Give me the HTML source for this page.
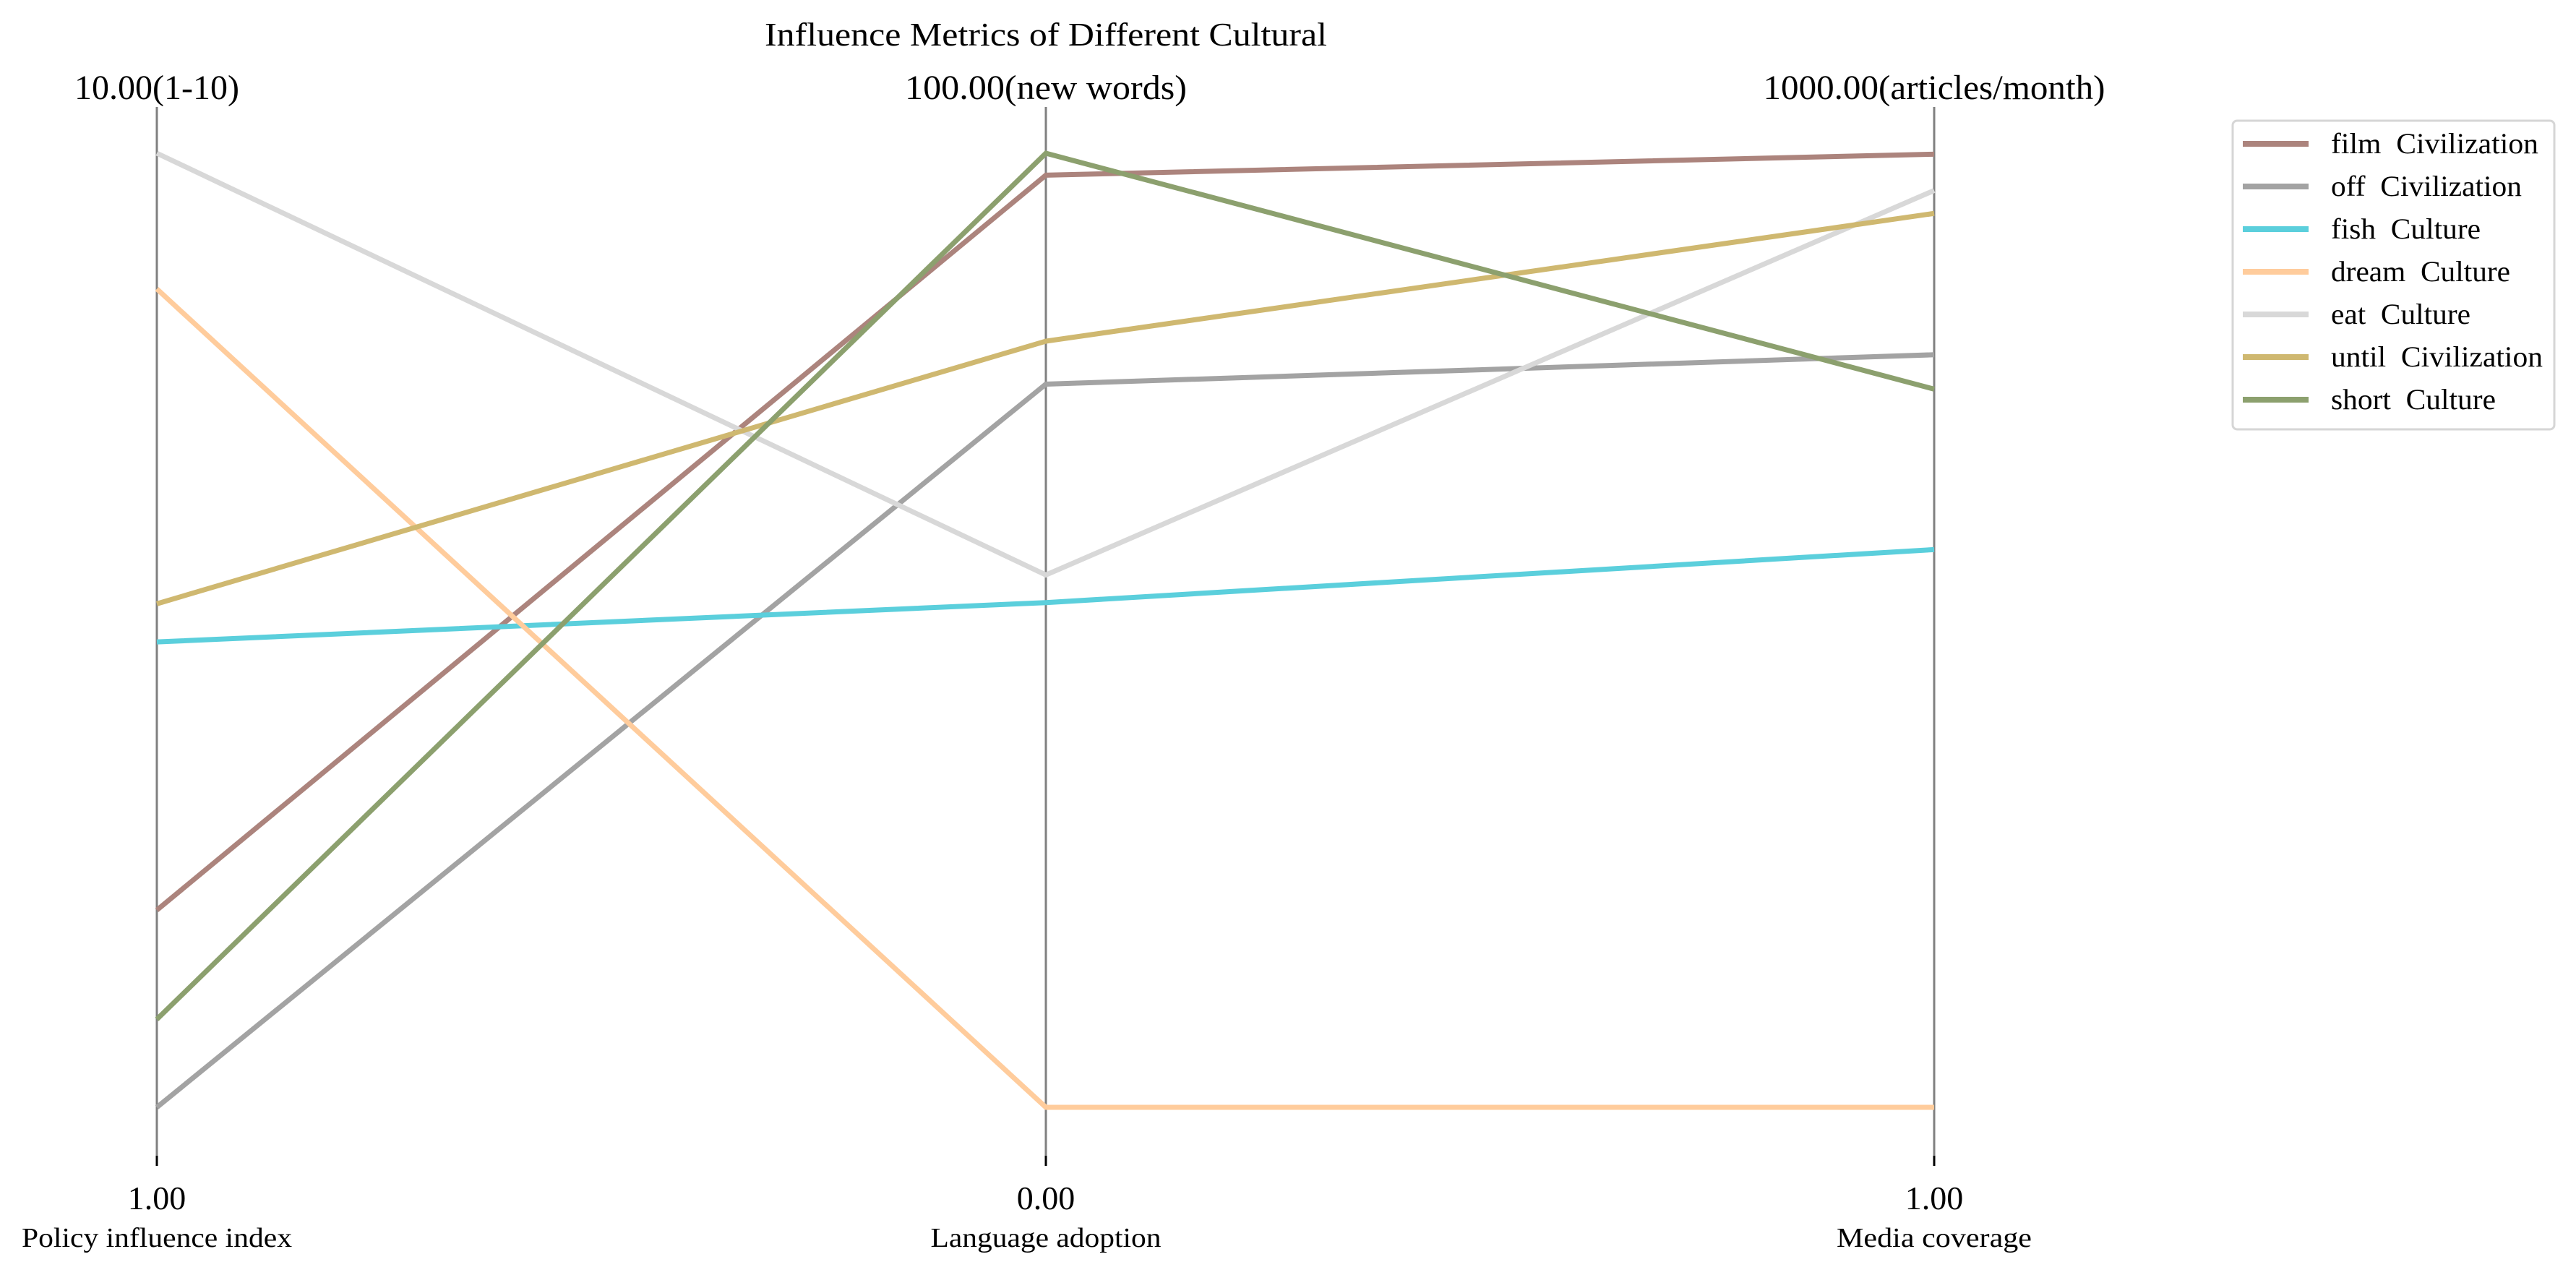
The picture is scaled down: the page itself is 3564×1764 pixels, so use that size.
<!DOCTYPE html>
<html><head><meta charset="utf-8"><style>
html,body{margin:0;padding:0;background:#fff;}
svg{display:block;font-family:"Liberation Serif",serif;}
</style></head><body>
<svg id="chart" width="3564" height="1764" viewBox="0 0 3564 1764" xmlns="http://www.w3.org/2000/svg">
<text x="1447" y="63" text-anchor="middle" font-size="46" textLength="778" lengthAdjust="spacingAndGlyphs">Influence Metrics of Different Cultural</text>
<g id="axes"></g>
<g id="lines"></g>
<g id="legend">
<rect x="3089" y="167" width="445" height="427" rx="6" fill="#fff" stroke="#d6d6d6" stroke-width="3"/>
</g>
</svg>
<script>
const axisNames = ["Policy influence index","Language adoption","Media coverage"];
const axisMin = [1, 0, 1];
const axisMax = [10, 100, 1000];
const axisMinLabels = ["1.00","0.00","1.00"];
const axisMaxLabels = ["10.00(1-10)","100.00(new words)","1000.00(articles/month)"];
const seriesNames = ["film  Civilization","off  Civilization","fish  Culture","dream  Culture","eat  Culture","until  Civilization","short  Culture"];
const filmValues = [2.86, 97.7, 999];
const offValues = [1, 75.8, 789];
const fishValues = [5.39, 52.9, 585];
const dreamValues = [8.72, 0, 1];
const eatValues = [10, 55.8, 961];
const untilValues = [5.75, 80.3, 937];
const shortValues = [1.83, 100, 753];
const seriesValues = [filmValues, offValues, fishValues, dreamValues, eatValues, untilValues, shortValues];
const seriesColors = ["#ac847d","#a3a3a3","#5bcfdc","#ffcc9c","#d8d8d8","#cfb870","#8ca06e"];

const NS = "http://www.w3.org/2000/svg";
const axisX = [217, 1447, 2676];
const yTop = 212, yBot = 1532;
function xPos(i){ return axisX[i]; }
function yPos(i, v){ return yBot - (v - axisMin[i])/(axisMax[i]-axisMin[i])*(yBot-yTop); }
function mk(tag, attrs, parent){ const e=document.createElementNS(NS,tag); for(const k in attrs) e.setAttribute(k,attrs[k]); parent.appendChild(e); return e; }

const axesG = document.getElementById('axes');
const topW = [228, 390, 473];
const nameW = [374, 319, 270];
axisNames.forEach((n,i)=>{
  const l = mk('line',{x1:xPos(i),x2:xPos(i),y1:148,y2:1599,stroke:'#808080','stroke-width':3},axesG);
  
  
  const t = mk('line',{x1:xPos(i),x2:xPos(i),y1:1599,y2:1613,stroke:'#000','stroke-width':3},axesG);
  
  
  const tt = mk('text',{x:xPos(i),y:137,'text-anchor':'middle','font-size':48,textLength:topW[i],lengthAdjust:'spacingAndGlyphs'},axesG);
  tt.textContent = axisMaxLabels[i];
  
  
  const bt = mk('text',{x:xPos(i),y:1673,'text-anchor':'middle','font-size':46},axesG);
  bt.textContent = axisMinLabels[i];
  
  
  const nt = mk('text',{x:xPos(i),y:1725,'text-anchor':'middle','font-size':38,textLength:nameW[i],lengthAdjust:'spacingAndGlyphs'},axesG);
  nt.textContent = n;
  
  
});

const linesG = document.getElementById('lines');
seriesValues.forEach((vals,s)=>{
  const pts = vals.map((v,i)=>xPos(i)+','+yPos(i,v)).join(' ');
  const p = mk('polyline',{points:pts,fill:'none',stroke:seriesColors[s],'stroke-width':7,'stroke-linejoin':'miter'},linesG);
  
  
});

const legG = document.getElementById('legend');
const legW = [287, 264, 207, 248, 193, 293, 228];
seriesNames.forEach((n,s)=>{
  const y = 199 + s*59;
  const ln = mk('line',{x1:3103,x2:3194,y1:y,y2:y,stroke:seriesColors[s],'stroke-width':8},legG);
  
  
  const tx = mk('text',{x:3225,y:y+13,'font-size':40,textLength:legW[s],lengthAdjust:'spacingAndGlyphs'},legG);
  tx.textContent = n;
  tx.setAttribute('style','white-space:pre');
  tx.setAttribute('xml:space','preserve');
  
  
});
</script>
</body></html>
